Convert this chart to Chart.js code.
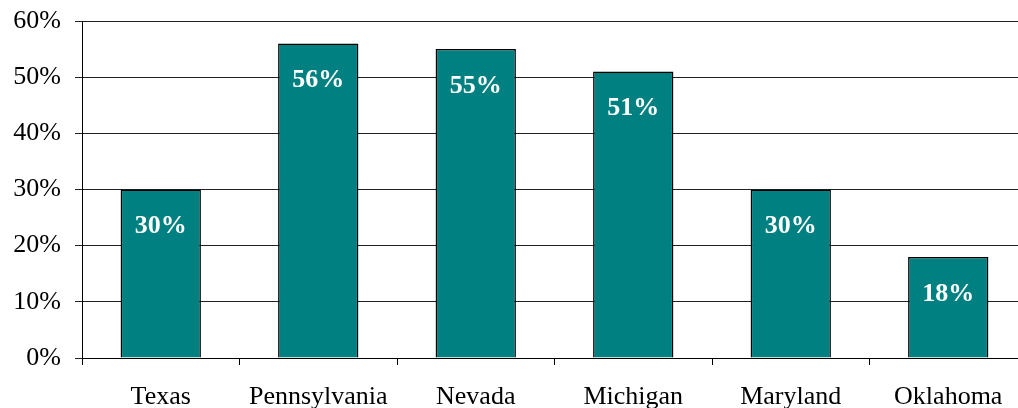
<!DOCTYPE html>
<html>
<head>
<meta charset="utf-8">
<script src="https://cdn.jsdelivr.net/npm/chart.js@4/dist/chart.umd.min.js"></script>
<style>
  html, body { margin: 0; padding: 0; background: #fff; overflow: hidden; }
  #wrap { position: absolute; left: 0; top: 0; width: 1030px; height: 408px; }
</style>
</head>
<body>
<div id="wrap"><canvas id="bars"></canvas></div>
<script>
const states = ["Texas", "Pennsylvania", "Nevada", "Michigan", "Maryland", "Oklahoma"];
const shares = [30, 56, 55, 51, 30, 18];
const yTicks = [0, 10, 20, 30, 40, 50, 60];

const serif = "'Liberation Serif', 'Times New Roman', serif";

// white bold labels inside each bar
const barLabels = {
    id: "barLabels",
    afterDatasetsDraw(chart) {
        const ctx = chart.ctx;
        const meta = chart.getDatasetMeta(0);
        ctx.save();
        ctx.fillStyle = "#fff";
        ctx.font = "bold 26px " + serif;
        ctx.textAlign = "center";
        ctx.textBaseline = "middle";
        meta.data.forEach((bar, i) => {
            ctx.fillText(shares[i] + "%", bar.x, bar.y + 37);
        });
        ctx.restore();
    },
};

const barConfig = {
    type: "bar",
    data: {
        labels: states,
        datasets: [
            {
                data: shares,
                backgroundColor: "#008080",
                borderColor: "#000",
                borderWidth: 1.5,
                categoryPercentage: 1,
                barPercentage: 0.51,
            },
        ],
    },
    options: {
        responsive: true,
        maintainAspectRatio: false,
        animation: false,
        layout: { padding: { top: 21, right: 3, left: 0, bottom: 0 } },
        plugins: {
            legend: { display: false },
            tooltip: { enabled: false },
        },
        scales: {
            x: {
                offset: true,
                grid: {
                    offset: true,
                    drawOnChartArea: false,
                    color: "#000",
                    tickLength: 7,
                },
                border: { color: "#000", width: 1 },
                ticks: {
                    color: "#000",
                    font: { family: serif, size: 26 },
                    padding: 17,
                    maxRotation: 0,
                    autoSkip: false,
                },
                afterFit(scale) {
                    scale.height = 50;
                    scale.paddingLeft = 0;
                    scale.paddingRight = 0;
                },
            },
            y: {
                min: 0,
                max: 60,
                afterBuildTicks(scale) {
                    scale.ticks = yTicks.map(v => ({ value: v }));
                },
                grid: {
                    color: "#222",
                    tickLength: 7,
                },
                border: { color: "#000", width: 1 },
                ticks: {
                    color: "#000",
                    font: { family: serif, size: 26 },
                    padding: 14,
                    callback: v => v + "%",
                },
                afterFit(scale) {
                    scale.width = 82;
                    scale.paddingTop = 0;
                    scale.paddingBottom = 0;
                },
            },
        },
    },
    plugins: [barLabels],
};

const barsCtx = document.getElementById("bars");
window.myBar = new Chart(barsCtx, barConfig);
</script>
</body>
</html>
